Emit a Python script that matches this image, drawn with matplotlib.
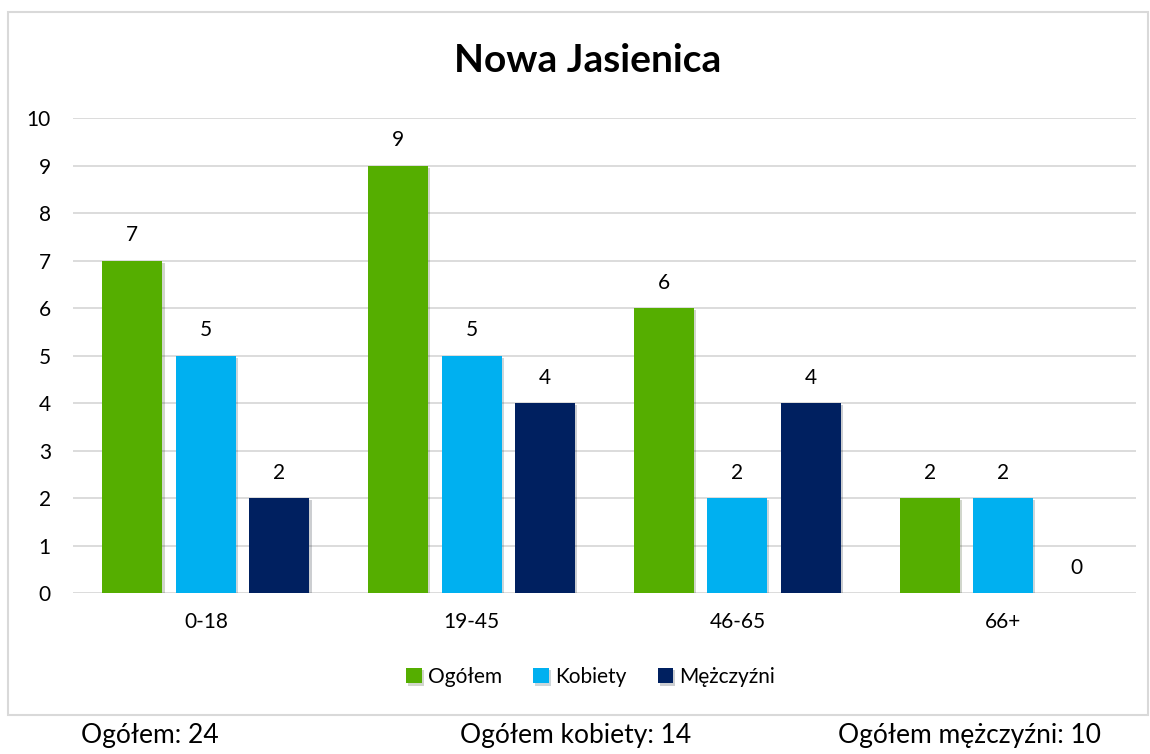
import matplotlib.pyplot as plt
import matplotlib.patheffects as pe
from matplotlib.patches import Rectangle
import numpy as np

plt.rcParams['font.family'] = ['Lato', 'DejaVu Sans']

kategorie = ['0-18', '19-45', '46-65', '66+']
ogolem = [7, 9, 6, 2]
kobiety = [5, 5, 2, 2]
mezczyzni = [2, 4, 4, 0]
serie = ['Ogółem', 'Kobiety', 'Mężczyźni']
kolory = ['#55AE00', '#00B0F0', '#002060']
podsumowanie = ['Ogółem: 24', 'Ogółem kobiety: 14', 'Ogółem mężczyźni: 10']

fig = plt.figure(figsize=(11.5, 7.54), dpi=100)
ax = fig.add_axes([0.0635, 0.2135, 0.9243, 0.63])

x = np.arange(len(kategorie))
szer = 0.226
krok = 0.2766
for i, (vals, nazwa, kol) in enumerate(zip([ogolem, kobiety, mezczyzni], serie, kolory)):
    bars = ax.bar(x + (i - 1) * krok, vals, width=szer, color=kol, label=nazwa, zorder=3,
                  path_effects=[pe.SimplePatchShadow(offset=(1.5, -1.5), alpha=0.2), pe.Normal()])
    for b, v in zip(bars, vals):
        ax.annotate(str(v), (b.get_x() + b.get_width() / 2, v), xytext=(0, 11),
                    textcoords='offset points', ha='center', va='bottom', fontsize=15)

ax.set_xlim(-0.5, len(kategorie) - 0.5)
ax.set_ylim(0, 10)
ax.set_yticks(range(0, 11))
ax.set_xticks(x)
ax.set_xticklabels(kategorie)
ax.tick_params(axis='both', length=0, labelsize=15)
ax.tick_params(axis='x', pad=14)
ax.tick_params(axis='y', pad=16)
ax.grid(axis='y', color='#d9d9d9', linewidth=1.3, zorder=0)
for s in ax.spines.values():
    s.set_visible(False)

fig.text(0.511, 0.92, 'Nowa Jasienica', ha='center', va='center', fontsize=28, fontweight='bold')

ax.legend(loc='center', bbox_to_anchor=(0.487, -0.177), ncol=3, frameon=False, fontsize=15,
          handlelength=0.75, handleheight=0.75, handletextpad=0.3, columnspacing=1.5)

fig.patches.append(Rectangle((8 / 1150, 39 / 754), 1140 / 1150, 703 / 754, transform=fig.transFigure,
                             fill=False, edgecolor='#d9d9d9', linewidth=1.5))

for tx, xpos in zip(podsumowanie, [0.07, 0.4, 0.729]):
    fig.text(xpos, 0.025, tx, ha='left', va='center', fontsize=19)

fig.savefig('out.png', dpi=100)
